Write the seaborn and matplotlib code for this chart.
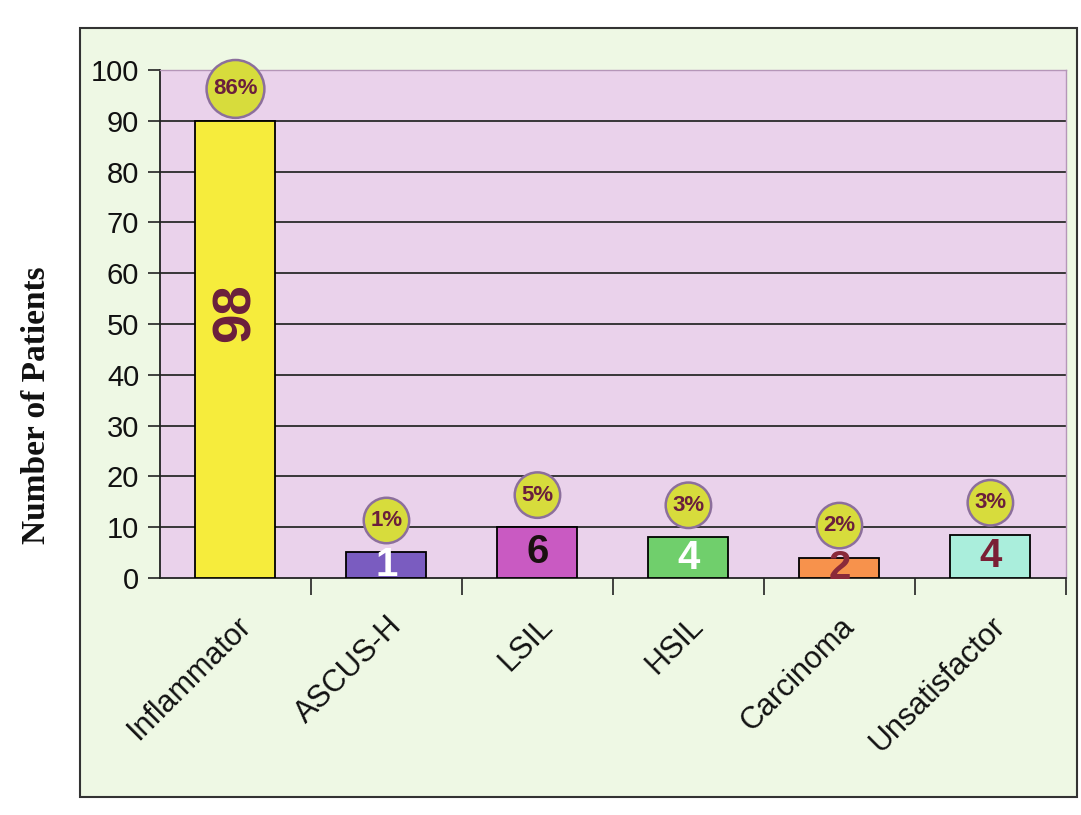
import matplotlib
matplotlib.use("Agg")
import matplotlib.pyplot as plt
import seaborn as sns
import pandas as pd
from matplotlib.patches import Rectangle

categories = ["Inflammator", "ASCUS-H", "LSIL", "HSIL", "Carcinoma", "Unsatisfactor"]
bar_heights = [90, 5, 10, 8, 4, 8.5]          # bar heights as drawn in the picture
count_labels = ["98", "1", "6", "4", "2", "4"]
percent_labels = ["86%", "1%", "5%", "3%", "2%", "3%"]
bar_colors = ["#f6ec3c", "#7a5cc0", "#c95ac2", "#70cf6c", "#f7924c", "#aaeedc"]
count_colors = ["#6a1f3c", "#ffffff", "#1a1010", "#ffffff", "#8a2a3a", "#7a1f35"]
y_ticks = [0, 10, 20, 30, 40, 50, 60, 70, 80, 90, 100]

sns.set_theme(style="white")
plt.rcParams["font.family"] = ["Liberation Sans", "DejaVu Sans"]

fig = plt.figure(figsize=(10.81, 8.15), dpi=100)
fig.patch.set_facecolor("white")

# outer chart-area box
fig.patches.append(Rectangle((0.074, 0.022), 0.922, 0.944, transform=fig.transFigure,
                             facecolor="#eef8e4", edgecolor="#333333", lw=1.5, zorder=-5))

ax = fig.add_axes([0.148, 0.291, 0.838, 0.623])
ax.set_zorder(2)
ax.set_facecolor("#ead2eb")

df = pd.DataFrame({"cat": categories, "val": bar_heights})
sns.barplot(data=df, x="cat", y="val", hue="cat", palette=bar_colors, legend=False,
            width=0.53, edgecolor="black", linewidth=1.3, ax=ax, zorder=3, saturation=1)

ax.set_ylim(0, 100)
ax.set_xlim(-0.5, 5.5)
ax.set_yticks(y_ticks)
ax.set_yticklabels([str(t) for t in y_ticks], family=["Liberation Sans Narrow", "Liberation Sans"],
                   fontsize=21, color="#111111")
for t in y_ticks[1:-1]:
    ax.axhline(t, color="#2a2a2a", lw=1.3, zorder=1)

ax.set_xticks(range(len(categories)))
ax.set_xticklabels(categories, rotation=45, ha="right", rotation_mode="anchor",
                   fontsize=22, color="#111111")
ax.set_xticks([i + 0.5 for i in range(len(categories))], minor=True)
ax.tick_params(axis="x", which="major", length=0, pad=24)
ax.tick_params(axis="x", which="minor", length=12, width=1.2, color="#222222", direction="out", bottom=True)
ax.tick_params(axis="y", length=9, width=1.2, color="#222222", direction="out", left=True, pad=6)

ax.set_xlabel("")
ax.set_ylabel("")
for side in ["left", "bottom"]:
    ax.spines[side].set_color("#222222")
    ax.spines[side].set_linewidth(1.3)
for side in ["top", "right"]:
    ax.spines[side].set_color("#b596b8")
    ax.spines[side].set_linewidth(1.0)

# count labels inside bars
for i, (h, lab, c) in enumerate(zip(bar_heights, count_labels, count_colors)):
    if i == 0:
        ax.text(i, h * 0.58, lab, rotation=90, ha="center", va="center", fontsize=38,
                fontweight="bold", color=c, zorder=5)
    else:
        ax.text(i, h / 2, lab, ha="center", va="center", fontsize=29,
                fontweight="bold", color=c, zorder=5,
                family=["Liberation Sans Narrow", "Liberation Sans"])

# percentage bubbles
for i, (h, p) in enumerate(zip(bar_heights, percent_labels)):
    ax.annotate(p, xy=(i, h), xytext=(0, 23), textcoords="offset points",
                ha="center", va="center", fontsize=16, fontweight="bold", color="#6a1f3c",
                family=["Liberation Sans Narrow", "Liberation Sans"], zorder=6,
                bbox=dict(boxstyle="circle,pad=0.3", facecolor="#d7dc3c",
                          edgecolor="#8c6f9c", lw=1.8))

fig.text(0.034, 0.503, "Number of Patients", rotation=90, ha="center", va="center",
         fontsize=24, fontweight="bold", family=["Liberation Serif", "DejaVu Serif"], color="#111111")

fig.savefig("out.png", dpi=100)
